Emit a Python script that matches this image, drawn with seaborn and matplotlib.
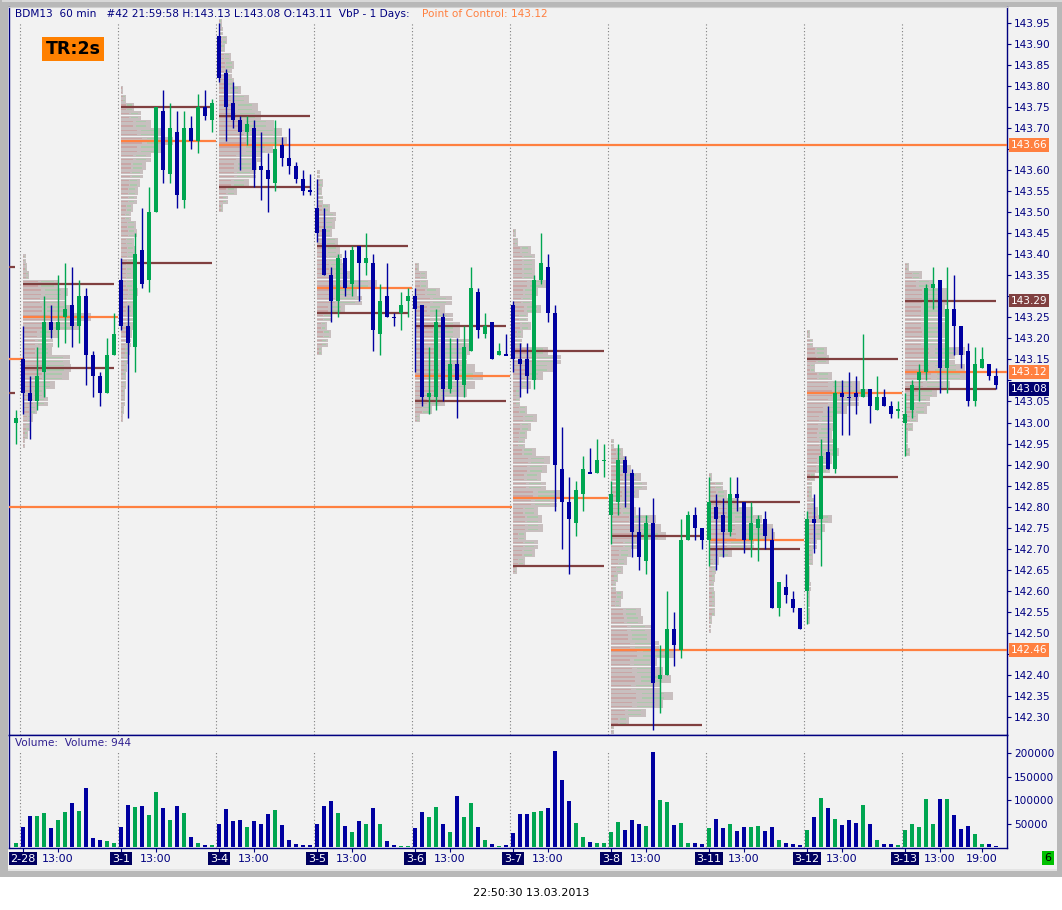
import numpy as np
import pandas as pd
import matplotlib
matplotlib.use("Agg")
import matplotlib.pyplot as plt
from matplotlib.patches import Rectangle
import seaborn as sns

# Session labels along the bottom strip
days = ["2-28", "3-1", "3-4", "3-5", "3-6", "3-7", "3-8", "3-11", "3-12", "3-13"]

# Last hourly bar of 2-27 (open, high, low, close) and its volume
prev_bar = [143.00, 143.03, 142.95, 143.01]
prev_volume = 9000
prev_dir = "g"

# Hourly candles per session, rows are open, high, low, close
ohlc_0228 = [[143.15, 143.23, 143.02, 143.07], [143.07, 143.11, 142.96, 143.05], [143.05, 143.18, 143.03, 143.11],
             [143.12, 143.30, 143.06, 143.24], [143.24, 143.28, 143.20, 143.22], [143.22, 143.35, 143.18, 143.24],
             [143.25, 143.38, 143.19, 143.27], [143.28, 143.37, 143.18, 143.23], [143.23, 143.34, 143.19, 143.30],
             [143.30, 143.32, 143.09, 143.16], [143.16, 143.17, 143.06, 143.11], [143.11, 143.12, 143.04, 143.07],
             [143.07, 143.20, 143.07, 143.16], [143.16, 143.26, 143.16, 143.21]]
ohlc_0301 = [[143.34, 143.39, 143.22, 143.23], [143.23, 143.28, 143.01, 143.19], [143.18, 143.45, 143.12, 143.40],
             [143.41, 143.51, 143.32, 143.33], [143.34, 143.56, 143.31, 143.50], [143.50, 143.75, 143.50, 143.75],
             [143.74, 143.79, 143.57, 143.60], [143.59, 143.76, 143.57, 143.70], [143.69, 143.74, 143.51, 143.54],
             [143.53, 143.74, 143.51, 143.70], [143.70, 143.73, 143.65, 143.67], [143.67, 143.78, 143.64, 143.75],
             [143.75, 143.79, 143.72, 143.73], [143.72, 143.77, 143.69, 143.76]]
ohlc_0304 = [[143.92, 143.95, 143.81, 143.82], [143.83, 143.84, 143.67, 143.75], [143.76, 143.81, 143.70, 143.72],
             [143.72, 143.73, 143.60, 143.69], [143.69, 143.73, 143.66, 143.71], [143.70, 143.72, 143.56, 143.60],
             [143.61, 143.69, 143.53, 143.60], [143.60, 143.64, 143.50, 143.58], [143.57, 143.72, 143.55, 143.65],
             [143.66, 143.68, 143.61, 143.63], [143.63, 143.70, 143.59, 143.61], [143.61, 143.62, 143.57, 143.58],
             [143.58, 143.60, 143.54, 143.55], [143.55, 143.59, 143.54, 143.55]]
ohlc_0305 = [[143.51, 143.58, 143.43, 143.45], [143.46, 143.51, 143.35, 143.35], [143.35, 143.37, 143.24, 143.29],
             [143.29, 143.40, 143.25, 143.39], [143.39, 143.41, 143.30, 143.32], [143.33, 143.42, 143.30, 143.41],
             [143.42, 143.42, 143.29, 143.38], [143.38, 143.45, 143.35, 143.39], [143.38, 143.40, 143.17, 143.22],
             [143.21, 143.33, 143.16, 143.29], [143.30, 143.38, 143.25, 143.25], [143.25, 143.26, 143.23, 143.25],
             [143.26, 143.31, 143.22, 143.28], [143.29, 143.32, 143.25, 143.30]]
ohlc_0306 = [[143.30, 143.32, 143.12, 143.27], [143.28, 143.28, 143.04, 143.06], [143.06, 143.18, 143.02, 143.07],
             [143.06, 143.27, 143.03, 143.24], [143.25, 143.26, 143.05, 143.08], [143.08, 143.20, 143.07, 143.14],
             [143.14, 143.20, 143.01, 143.10], [143.09, 143.23, 143.06, 143.18], [143.17, 143.37, 143.17, 143.32],
             [143.31, 143.32, 143.20, 143.22], [143.21, 143.26, 143.20, 143.23], [143.24, 143.24, 143.15, 143.15],
             [143.16, 143.19, 143.16, 143.17], [143.16, 143.21, 143.16, 143.16]]
ohlc_0307 = [[143.28, 143.29, 143.12, 143.15], [143.15, 143.19, 143.06, 143.14], [143.15, 143.19, 143.07, 143.11],
             [143.10, 143.35, 143.08, 143.34], [143.34, 143.45, 143.33, 143.38], [143.37, 143.40, 143.24, 143.26],
             [143.26, 143.28, 142.79, 142.90], [142.89, 142.99, 142.70, 142.81], [142.81, 142.87, 142.64, 142.77],
             [142.76, 142.86, 142.73, 142.84], [142.83, 142.92, 142.79, 142.89], [142.88, 142.94, 142.88, 142.88],
             [142.88, 142.96, 142.88, 142.91], [142.91, 142.95, 142.87, 142.91]]
ohlc_0308 = [[142.78, 142.86, 142.71, 142.83], [142.81, 142.95, 142.78, 142.91], [142.91, 142.92, 142.80, 142.88],
             [142.88, 142.89, 142.68, 142.74], [142.74, 142.80, 142.65, 142.68], [142.67, 142.78, 142.64, 142.76],
             [142.76, 142.82, 142.27, 142.38], [142.39, 142.47, 142.31, 142.40], [142.40, 142.60, 142.40, 142.51],
             [142.51, 142.55, 142.42, 142.47], [142.46, 142.77, 142.44, 142.72], [142.72, 142.79, 142.72, 142.78],
             [142.78, 142.80, 142.72, 142.75], [142.75, 142.75, 142.70, 142.72]]
ohlc_0311 = [[142.72, 142.87, 142.66, 142.81], [142.80, 142.83, 142.65, 142.77], [142.78, 142.82, 142.68, 142.74],
             [142.74, 142.87, 142.73, 142.83], [142.83, 142.87, 142.79, 142.82], [142.81, 142.81, 142.69, 142.72],
             [142.72, 142.81, 142.68, 142.76], [142.75, 142.78, 142.67, 142.77], [142.77, 142.79, 142.70, 142.73],
             [142.72, 142.75, 142.56, 142.56], [142.56, 142.62, 142.54, 142.62], [142.61, 142.64, 142.57, 142.59],
             [142.58, 142.60, 142.55, 142.56], [142.56, 142.56, 142.51, 142.51]]
ohlc_0312 = [[142.60, 142.79, 142.52, 142.77], [142.77, 142.83, 142.69, 142.76], [142.77, 142.96, 142.66, 142.92],
             [142.93, 143.04, 142.89, 142.89], [142.89, 143.10, 142.88, 143.07], [143.07, 143.10, 142.97, 143.06],
             [143.06, 143.12, 142.97, 143.06], [143.07, 143.11, 143.02, 143.06], [143.06, 143.21, 143.06, 143.08],
             [143.08, 143.08, 143.00, 143.04], [143.03, 143.11, 143.03, 143.06], [143.06, 143.08, 143.04, 143.04],
             [143.04, 143.05, 143.01, 143.02], [143.03, 143.05, 143.01, 143.03]]
ohlc_0313 = [[143.00, 143.07, 142.92, 143.02], [143.03, 143.10, 143.01, 143.09], [143.10, 143.14, 143.05, 143.12],
             [143.12, 143.33, 143.10, 143.32], [143.32, 143.37, 143.27, 143.33], [143.34, 143.34, 143.07, 143.13],
             [143.13, 143.37, 143.07, 143.27], [143.27, 143.35, 143.16, 143.23], [143.23, 143.23, 143.13, 143.16],
             [143.17, 143.19, 143.04, 143.05], [143.05, 143.18, 143.04, 143.14], [143.13, 143.18, 143.13, 143.15],
             [143.14, 143.14, 143.10, 143.11], [143.11, 143.13, 143.08, 143.09]]
ohlc = [ohlc_0228, ohlc_0301, ohlc_0304, ohlc_0305, ohlc_0306,
        ohlc_0307, ohlc_0308, ohlc_0311, ohlc_0312, ohlc_0313]

# Hourly volume per session
volume_0228 = [42000, 65000, 65000, 72000, 40000, 57000, 74000, 94000, 76000, 126000, 20000, 14000, 12000, 9000]
volume_0301 = [42000, 89000, 85000, 87000, 68000, 117000, 83000, 57000, 87000, 72000, 22000, 9000, 5000, 5000]
volume_0304 = [50000, 81000, 55000, 57000, 42000, 55000, 48000, 70000, 78000, 46000, 14000, 7000, 5000, 5000]
volume_0305 = [48000, 87000, 98000, 72000, 44000, 33000, 55000, 48000, 83000, 48000, 12000, 5000, 3000, 3000]
volume_0306 = [40000, 74000, 63000, 85000, 50000, 33000, 109000, 63000, 94000, 42000, 14000, 7000, 3000, 5000]
volume_0307 = [29000, 70000, 70000, 74000, 76000, 83000, 205000, 142000, 97000, 51000, 22000, 11000, 9000, 9000]
volume_0308 = [32000, 53000, 36000, 57000, 49000, 45000, 203000, 99000, 95000, 47000, 51000, 9000, 9000, 7000]
volume_0311 = [41000, 60000, 41000, 49000, 34000, 43000, 43000, 45000, 34000, 43000, 15000, 9000, 7000, 5000]
volume_0312 = [36000, 64000, 104000, 83000, 60000, 47000, 57000, 51000, 89000, 49000, 15000, 7000, 7000, 5000]
volume_0313 = [36000, 49000, 43000, 102000, 49000, 102000, 102000, 68000, 39000, 45000, 28000, 7000, 7000, 3000]
volumes = [volume_0228, volume_0301, volume_0304, volume_0305, volume_0306,
           volume_0307, volume_0308, volume_0311, volume_0312, volume_0313]

# Colour of each volume bar: g = up bar, b = down bar
vol_dir = ["bbggbggbgbbbgg", "bbgbggbgbgbgbg", "bbbbgbbbgbbbbb", "bbbgbgbgbgbbgg", "bbggbgbggbgbgb",
           "bbbggbbbbggbgg", "ggbbbgbggbggbb", "gbbgbbggbbgbbb", "gbgbgbbbgbgbbg", "gggggbgbbbggbb"]

# Volume at price per session: highest price, then row sizes every 0.02 going down
profile_top = [143.39, 143.79, 143.95, 143.59, 143.37, 143.45, 142.95, 142.87, 143.21, 143.37]
profile_0228 = [3, 4, 6, 36, 45, 42, 48, 68, 57, 35, 30, 29, 47, 48, 46, 32, 23, 25, 14, 10, 7, 5, 2]
profile_0301 = [2, 5, 13, 20, 30, 40, 52, 40, 30, 25, 22, 19, 17, 16, 12, 10, 15, 16, 13, 14,
                15, 12, 12, 13, 17, 15, 12, 13, 12, 11, 10, 9, 7, 6, 5, 5, 4, 4, 3, 2]
profile_0304 = [3, 4, 8, 6, 12, 15, 13, 15, 22, 30, 39, 42, 55, 63, 68, 54, 42, 38, 37, 30, 18, 9, 4]
profile_0305 = [3, 6, 5, 6, 13, 19, 18, 15, 21, 23, 25, 29, 36, 60, 40, 45, 28, 15, 10, 14, 11, 5]
profile_0306 = [4, 12, 13, 25, 37, 30, 38, 45, 45, 55, 55, 52, 60, 68, 60, 52, 30, 17, 5]
profile_0307 = [3, 5, 18, 22, 22, 22, 35, 25, 20, 28, 15, 18, 10, 9, 35, 48, 40, 30, 18, 7, 7,
                14, 24, 18, 14, 12, 23, 37, 34, 28, 33, 50, 44, 25, 29, 30, 13, 25, 22, 12, 4]
profile_0308 = [3, 12, 16, 20, 30, 36, 28, 22, 25, 45, 50, 55, 29, 20, 16, 12, 7, 5, 12, 10,
                30, 32, 40, 42, 48, 64, 46, 52, 60, 50, 62, 52, 35, 18, 3]
profile_0311 = [3, 14, 18, 30, 44, 53, 64, 66, 45, 23, 10, 7, 6, 5, 6, 6, 6, 3, 2]
profile_0312 = [3, 6, 20, 22, 8, 25, 53, 63, 52, 40, 30, 28, 25, 29, 32, 25, 23, 8, 5, 5, 8,
                11, 25, 18, 15, 10, 6, 6, 3, 3, 4, 3, 3, 3, 3]
profile_0313 = [4, 17, 28, 42, 42, 40, 40, 40, 43, 40, 60, 50, 60, 64, 45, 32, 25, 22, 13, 8, 3, 3, 5]
profiles = [profile_0228, profile_0301, profile_0304, profile_0305, profile_0306,
            profile_0307, profile_0308, profile_0311, profile_0312, profile_0313]

# Value area high, point of control and value area low per session
va_high = [143.33, 143.75, 143.73, 143.42, 143.23, 143.17, 142.73, 142.81, 143.15, 143.29]
poc = [143.25, 143.67, 143.66, 143.32, 143.11, 142.82, 142.46, 142.72, 143.07, 143.12]
va_low = [143.13, 143.38, 143.56, 143.26, 143.05, 142.66, 142.28, 142.70, 142.87, 143.08]
naked_poc = [2, 6, 9]                  # sessions whose POC runs to the right edge
prev_levels = [143.37, 143.15, 143.07]  # 2-27 VAH, POC, VAL
old_poc = 142.80                       # older POC, untouched until 3-7

# Labels in boxes on the price scale
price_tags = [143.66, 143.29, 143.12, 143.08, 142.46]
tag_colors = ["#ff8040", "#804040", "#ff8040", "#000070", "#ff8040"]

GREEN = "#00a651"
BLUE = "#0000a0"
NAVY = "#000080"
ORANGE = "#ff8040"
BROWN = "#804040"
PANEL = "#f2f2f2"

W, H = 1062, 910
sns.set_style("white")
plt.rcParams["font.family"] = ["DejaVu Sans"]

fig = plt.figure(figsize=(W / 100, H / 100), dpi=100, facecolor="white")


def px_rect(x0, y0, x1, y1, color):
    fig.add_artist(Rectangle((x0 / W, 1 - y1 / H), (x1 - x0) / W, (y1 - y0) / H,
                             transform=fig.transFigure, color=color, lw=0, zorder=-10))


# window frame
px_rect(0, 0, W, 877, "#b8b8b8")
px_rect(2, 0, W, 2, "#d8d8d8")
px_rect(8, 7, 1057, 871, PANEL)
px_rect(8, 869, 1057, 871, "#e4e4e4")

xmin, xmax = -2.0, 140.57
ax = fig.add_axes([9 / W, 1 - 735 / H, 998 / W, 728 / H])
axv = fig.add_axes([9 / W, 1 - 848 / H, 998 / W, 113 / H])
axd = fig.add_axes([9 / W, 1 - 869 / H, 998 / W, 21 / H])
for a in (ax, axv, axd):
    a.set_facecolor(PANEL)
    a.set_xlim(xmin, xmax)

# ---------- price pane ----------
ax.set_ylim(142.257, 143.988)
seps = [14 * d - 0.45 for d in range(len(days))]
ax.vlines(seps, 142.257, 143.95, colors="#808080", linestyles=(0, (1, 2)), lw=0.8, zorder=1)

# volume profiles drawn as thin rows starting at each session open
rows_y, rows_w, rows_l = [], [], []
for d, widths in enumerate(profiles):
    for i, w in enumerate(widths):
        p = profile_top[d] - 0.02 * i
        for sub in (0.005, -0.005):
            rows_y.append(p + sub)
            rows_w.append(w / 7)
            rows_l.append(14 * d - 0.05)
rows_y, rows_w, rows_l = np.array(rows_y), np.array(rows_w), np.array(rows_l)
ax.barh(rows_y, rows_w, left=rows_l, height=0.0094, color="#c8bfbf", lw=0, zorder=2)
ax.barh(rows_y, rows_w * 0.4, left=rows_l + 0.08, height=0.0032, color="#c9a6a6", lw=0, zorder=2.1)
ax.barh(rows_y, rows_w * 0.36, left=rows_l + rows_w * 0.5, height=0.0032, color="#acc8ac", lw=0, zorder=2.1)

# value area and point of control lines
for d in range(len(days)):
    start = 14 * d - 0.05
    ax.hlines([va_high[d], va_low[d]], start, start + 13.05, colors=BROWN, lw=1.6, zorder=3)
    end = xmax if d in naked_poc else start + 13.65
    ax.hlines(poc[d], start, end, colors=ORANGE, lw=1.6, zorder=3)
ax.hlines([prev_levels[0], prev_levels[2]], xmin, -1.1, colors=BROWN, lw=1.6, zorder=3)
ax.hlines(prev_levels[1], xmin, -0.05, colors=ORANGE, lw=1.6, zorder=3)
ax.hlines(old_poc, xmin, 69.85, colors=ORANGE, lw=1.6, zorder=3)

# candles
xs, o, h, l, c, dirs = [-1], [prev_bar[0]], [prev_bar[1]], [prev_bar[2]], [prev_bar[3]], [prev_dir]
for d, day in enumerate(ohlc):
    for k, bar in enumerate(day):
        xs.append(14 * d + k)
        o.append(bar[0]); h.append(bar[1]); l.append(bar[2]); c.append(bar[3])
        dirs.append(vol_dir[d][k])
xs, o, h, l, c = map(np.array, (xs, o, h, l, c))
up = np.where(c > o, True, np.where(c < o, False, np.array(dirs) == "g"))
cols = np.where(up, GREEN, BLUE)
ax.vlines(xs, l, h, colors=cols, lw=1.0, zorder=4)
body = np.maximum(np.abs(c - o), 0.0035)
bottom = np.minimum(o, c) - np.where(np.abs(c - o) < 0.0035, 0.0017, 0)
ax.bar(xs, body, bottom=bottom, width=0.7, color=cols, lw=0, zorder=5)

# price scale; labels that sit under a coloured tag are left blank
ticks = np.round(np.arange(142.30, 143.951, 0.05), 2)
covered = [143.65, 143.30, 143.10, 142.45]
ax.yaxis.tick_right()
ax.set_yticks(ticks)
ax.set_yticklabels(["" if t in covered else f"{t:.2f}" for t in ticks])
ax.set_xticks([])
ax.tick_params(axis="y", direction="out", length=3, width=0.8, color=NAVY,
               labelcolor=NAVY, labelsize=7.6, pad=2)
for s in ("left", "right", "bottom"):
    ax.spines[s].set_color(NAVY)
    ax.spines[s].set_linewidth(1.0)
ax.spines["top"].set_color("#d0d0d0")

tr = ax.get_yaxis_transform()
for price, col in zip(price_tags, tag_colors):
    ax.text(1.0035, price, f"{price:.2f}", transform=tr, ha="left", va="center", fontsize=7.6,
            color="white", clip_on=False, zorder=10,
            bbox=dict(boxstyle="square,pad=0.18", fc=col, ec="none"))

# ---------- volume pane ----------
vol_df = pd.DataFrame({
    "bar": xs,
    "volume": [prev_volume] + [v for day in volumes for v in day],
    "dir": [prev_dir] + [ch for s in vol_dir for ch in s],
})
sns.barplot(data=vol_df, x="bar", y="volume", hue="dir", palette={"g": GREEN, "b": BLUE},
            native_scale=True, dodge=False, width=0.6, saturation=1, legend=False,
            errorbar=None, linewidth=0, ax=axv, zorder=3)
axv.set_xlim(xmin, xmax)
axv.set_ylim(-2100, 238300)
axv.vlines(seps, 0, 202000, colors="#808080", linestyles=(0, (1, 2)), lw=0.8, zorder=1)
axv.set_xlabel("")
axv.set_ylabel("")
axv.set_xticks([])
axv.yaxis.tick_right()
axv.set_yticks([50000, 100000, 150000, 200000])
axv.set_yticklabels(["50000", "100000", "150000", "200000"])
axv.tick_params(axis="y", direction="out", length=3, width=0.8, color=NAVY,
                labelcolor=NAVY, labelsize=7.6, pad=2)
for s in axv.spines.values():
    s.set_color(NAVY)
    s.set_linewidth(1.0)

# ---------- date strip ----------
axd.set_ylim(0, 1)
axd.axis("off")
for d, day in enumerate(days):
    axd.text(14 * d, 0.5, day, ha="center", va="center", fontsize=8, color="white",
             bbox=dict(boxstyle="square,pad=0.15", fc="#000060", ec="none"))
    axd.text(14 * d + 5, 0.5, "13:00", ha="center", va="center", fontsize=8, color=NAVY)
    axd.vlines([14 * d, 14 * d + 5], 0.8, 1.0, colors=NAVY, lw=0.8)
axd.text(14 * 9 + 11, 0.5, "19:00", ha="center", va="center", fontsize=8, color=NAVY)
axd.vlines([14 * 9 + 11], 0.8, 1.0, colors=NAVY, lw=0.8)

# ---------- texts ----------
fig.text(15 / W, 1 - 14 / H, "BDM13  60 min   #42 21:59:58 H:143.13 L:143.08 O:143.11  VbP - 1 Days:",
         ha="left", va="center", fontsize=7.6, color=NAVY)
fig.text(422 / W, 1 - 14 / H, "Point of Control: 143.12", ha="left", va="center",
         fontsize=7.6, color=ORANGE)
fig.text(73 / W, 1 - 49 / H, "TR:2s", ha="center", va="center", fontsize=12.5, fontweight="bold",
         color="black", bbox=dict(boxstyle="square,pad=0.2", fc="#ff8000", ec="none"))
fig.text(15 / W, 1 - 743 / H, "Volume:  Volume: 944", ha="left", va="center",
         fontsize=7.6, color="#302090")
fig.text(1048 / W, 1 - 858 / H, "6", ha="center", va="center", fontsize=8, color="black",
         bbox=dict(boxstyle="square,pad=0.2", fc="#00c000", ec="none"))
fig.text(531 / W, 1 - 893 / H, "22:50:30 13.03.2013", ha="center", va="center",
         fontsize=8, color="black")

fig.savefig("out.png", dpi=100, facecolor=fig.get_facecolor())
plt.close(fig)
